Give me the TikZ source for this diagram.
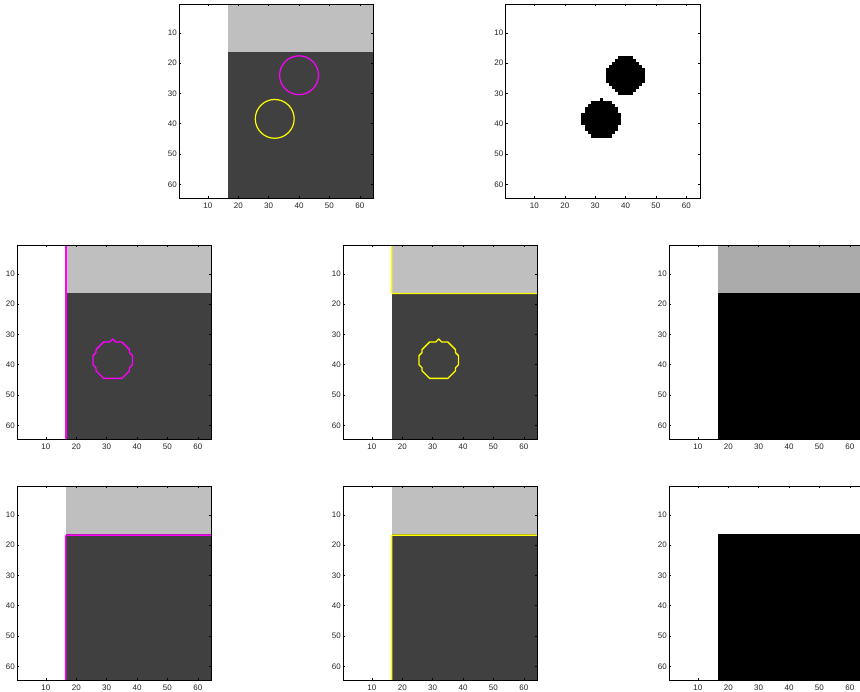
\documentclass[tikz,border=0pt]{standalone}
\usepackage{fontspec}
\setmainfont{Liberation Sans}
\definecolor{lgray}{gray}{0.75}
\definecolor{dgray}{gray}{0.25}
\definecolor{mgray}{gray}{0.67}
\definecolor{mag}{RGB}{255,0,255}
\definecolor{yel}{RGB}{255,255,0}
\tikzset{
  panel/.style 2 args={x=3.039pt,y=-3.031pt,shift={(#1pt,-#2pt)},shift={(-0.5,-0.5)}},
  axisline/.style={draw=black,line width=0.8pt},
  tickline/.style={draw=black,line width=0.5pt},
  ticklab/.style={inner sep=0pt,font=\fontsize{8}{9}\selectfont,text=black!85},
  ring/.style={line width=1.2pt},
  edgeline/.style={line width=1.3pt,line join=round},
  blobfill/.style={fill=black},
}
\newcommand\myaxes[1]{%
  \draw[axisline] (0.5,0.5) rectangle (64.5,64.5);
  \foreach \t in {10,20,30,40,50,60}{%
    \draw[tickline] (\t,64.5) -- ++(0,-0.7);
    \draw[tickline] (\t,0.5) -- ++(0,0.7);
    \draw[tickline] (0.5,\t) -- ++(0.7,0);
    \draw[tickline] (64.5,\t) -- ++(-0.7,0);
    \node[ticklab,anchor=north,yshift=-4.3pt] (#1x\t) at (\t,64.5) {\t};
    \node[ticklab,anchor=east,xshift=-2pt] (#1y\t) at (0.5,\t) {\t};
  }}
\newcommand\blobcontour[1]{\draw[edgeline,#1] (32,31.5) -- (32.5,32) -- (33,32.5) -- (35,32.5) -- (35.5,33) -- (36,33.5) -- (36.5,34) -- (37,34.5) -- (37.5,35) -- (37.5,36) -- (38,36.5) -- (38.5,37) -- (38.5,40) -- (38,40.5) -- (37.5,41) -- (37.5,42) -- (37,42.5) -- (36.5,43) -- (36,43.5) -- (35.5,44) -- (35,44.5) -- (29,44.5) -- (28.5,44) -- (28,43.5) -- (27.5,43) -- (27,42.5) -- (26.5,42) -- (26.5,41) -- (26,40.5) -- (25.5,40) -- (25.5,37) -- (26,36.5) -- (26.5,36) -- (26.5,35) -- (27,34.5) -- (27.5,34) -- (28,33.5) -- (28.5,33) -- (29,32.5) -- (31,32.5) -- (31.5,32) -- cycle;}
\newcommand\threeband[2]{%
  \fill[#1] (16.5,0.5) rectangle (64.5,16.5);
  \fill[#2] (16.5,16.5) rectangle (64.5,64.5);}
\begin{document}
\begin{tikzpicture}[x=1pt,y=1pt]
\fill[white] (0,0) rectangle (860,-692);
\useasboundingbox (0,0) rectangle (860,-692);

% panel 1: image with two circles
\begin{scope}[panel={179}{4}]
  \threeband{lgray}{dgray}
  \draw[ring,mag] (40,24) circle[radius=6.4];
  \draw[ring,yel] (32,38.4) circle[radius=6.4];
  \myaxes{a}
\end{scope}

% panel 2: binary blobs
\begin{scope}[panel={505.5}{4}]
  \foreach \r/\a/\b in {18/38/42,19/37/43,20/36/44,21/35/45,22/34/46,23/34/46,24/34/46,25/34/46,26/34/46,27/35/45,28/36/44,29/37/43,30/38/42,
    32/32/32,33/29/35,34/28/36,35/27/37,36/27/37,37/26/38,38/26/38,39/26/38,40/26/38,41/27/37,42/27/37,43/28/36,44/29/35}
    \fill[blobfill] ({\a-0.5},{\r-0.5}) rectangle ({\b+0.5},{\r+0.55});
  \myaxes{b}
\end{scope}

% middle row
\begin{scope}[panel={17}{245}]
  \threeband{lgray}{dgray}
  \blobcontour{mag}
  \draw[line width=1.4pt,draw=mag] (16.6,0.6) -- (16.6,64.4);
  \myaxes{c}
\end{scope}
\begin{scope}[panel={343}{245}]
  \threeband{lgray}{dgray}
  \draw[edgeline,yel] (16.5,0.5) -- (16.5,16.3) -- (16.7,16.5) -- (64.5,16.5);
  \blobcontour{yel}
  \myaxes{d}
\end{scope}
\begin{scope}[panel={669}{245}]
  \threeband{mgray}{black}
  \myaxes{e}
\end{scope}

% bottom row
\begin{scope}[panel={17}{486}]
  \threeband{lgray}{dgray}
  \draw[edgeline,mag] (16.5,64.5) -- (16.5,17) -- (16.9,16.7) -- (64.5,16.7);
  \myaxes{f}
\end{scope}
\begin{scope}[panel={343}{486}]
  \threeband{lgray}{dgray}
  \draw[edgeline,yel] (16.5,64.5) -- (16.5,17) -- (16.9,16.7) -- (64.5,16.7);
  \myaxes{g}
\end{scope}
\begin{scope}[panel={669}{486}]
  \fill[black] (16.5,16.5) rectangle (64.5,64.5);
  \myaxes{h}
\end{scope}
\end{tikzpicture}
\end{document}
